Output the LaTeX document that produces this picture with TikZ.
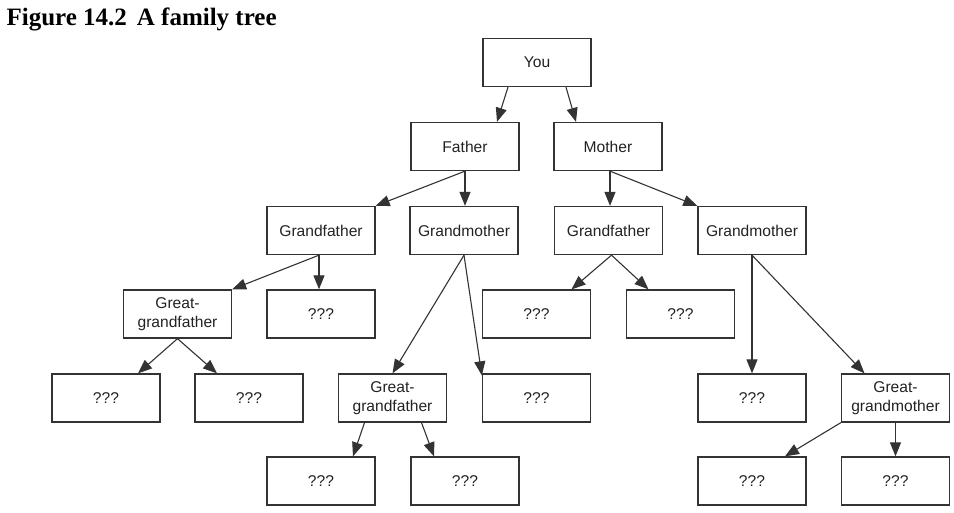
\documentclass[tikz,border=0pt]{standalone}
\usepackage{fontspec}
\setmainfont{Liberation Sans}
\newfontfamily\titlefont{Liberation Serif}
\usetikzlibrary{arrows.meta}
\definecolor{boxline}{HTML}{333333}
\definecolor{boxtext}{HTML}{222222}
\begin{document}
\begin{tikzpicture}[x=1pt,y=-1pt,
  person/.style={draw=boxline,line width=1.3pt,minimum width=108pt,minimum height=48pt,
    inner sep=0pt,align=center,text=boxtext,font=\fontsize{15.6}{19}\selectfont},
  link/.style={draw=boxline,line width=1.1pt,-{Triangle[length=14pt,width=11pt]}}]
\useasboundingbox (0,0) rectangle (954,512);
\node[anchor=base west,font=\titlefont\fontsize{25}{29}\selectfont\bfseries] (title) at (3,25) {Figure 14.2\hspace{0.4em}A family tree};
% row 1-3
\node[person] (you) at (537,62.5) {You};
\node[person] (father) at (465,146.5) {Father};
\node[person] (mother) at (608,146.5) {Mother};
\node[person] (gf1) at (321,230.5) {Grandfather};
\node[person] (gm1) at (464,230.5) {Grandmother};
\node[person] (gf2) at (608.5,230.5) {Grandfather};
\node[person] (gm2) at (752,230.5) {Grandmother};
% row 4
\node[person] (ggf1) at (177.5,314) {Great-\\grandfather};
\node[person] (q1) at (321,314) {???};
\node[person] (q2) at (536.5,314) {???};
\node[person] (q3) at (680.5,314) {???};
% row 5
\node[person] (q4) at (106,398) {???};
\node[person] (q5) at (249,398) {???};
\node[person] (ggf2) at (392.5,398) {Great-\\grandfather};
\node[person] (q6) at (536.5,398) {???};
\node[person] (q7) at (752,398) {???};
\node[person] (ggm) at (895.5,398) {Great-\\grandmother};
% row 6
\node[person] (q8) at (321,481) {???};
\node[person] (q9) at (465,481) {???};
\node[person] (q10) at (752,481) {???};
\node[person] (q11) at (895.5,481) {???};
% connectors
\draw[link] ([xshift=-29pt]you.south) -- ([xshift=32pt]father.north);
\draw[link] ([xshift=29pt]you.south) -- ([xshift=-32pt]mother.north);
\draw[link] (father.south) -- (gf1.north east);
\draw[link] (father.south) -- (father.south |- gm1.north);
\draw[link] ([xshift=2pt]mother.south) -- ([xshift=2pt]mother.south |- gf2.north);
\draw[link] ([xshift=2pt]mother.south) -- (gm2.north west);
\draw[link] ([xshift=-2pt]gf1.south) -- ([xshift=-2pt]gf1.south |- q1.north);
\draw[link] ([xshift=-2pt]gf1.south) -- (ggf1.north east);
\draw[link] (gm1.south) -- (ggf2.north);
\draw[link] (gm1.south) -- ([yshift=-2pt]q6.north west);
\draw[link] ([xshift=3pt]gf2.south) -- ([xshift=35pt]q2.north);
\draw[link] ([xshift=3pt]gf2.south) -- ([xshift=-32pt]q3.north);
\draw[link] (gm2.south) -- (q7.north);
\draw[link] (gm2.south) -- ([xshift=-31pt]ggm.north);
\draw[link] (ggf1.south) -- ([xshift=32pt]q4.north);
\draw[link] (ggf1.south) -- ([xshift=-32pt]q5.north);
\draw[link] ([xshift=-28pt]ggf2.south) -- ([xshift=32pt]q8.north);
\draw[link] ([xshift=29pt]ggf2.south) -- ([xshift=-31pt]q9.north);
\draw[link] (ggm.south west) -- ([xshift=33pt]q10.north);
\draw[link] (ggm.south) -- (q11.north);
\end{tikzpicture}
\end{document}
